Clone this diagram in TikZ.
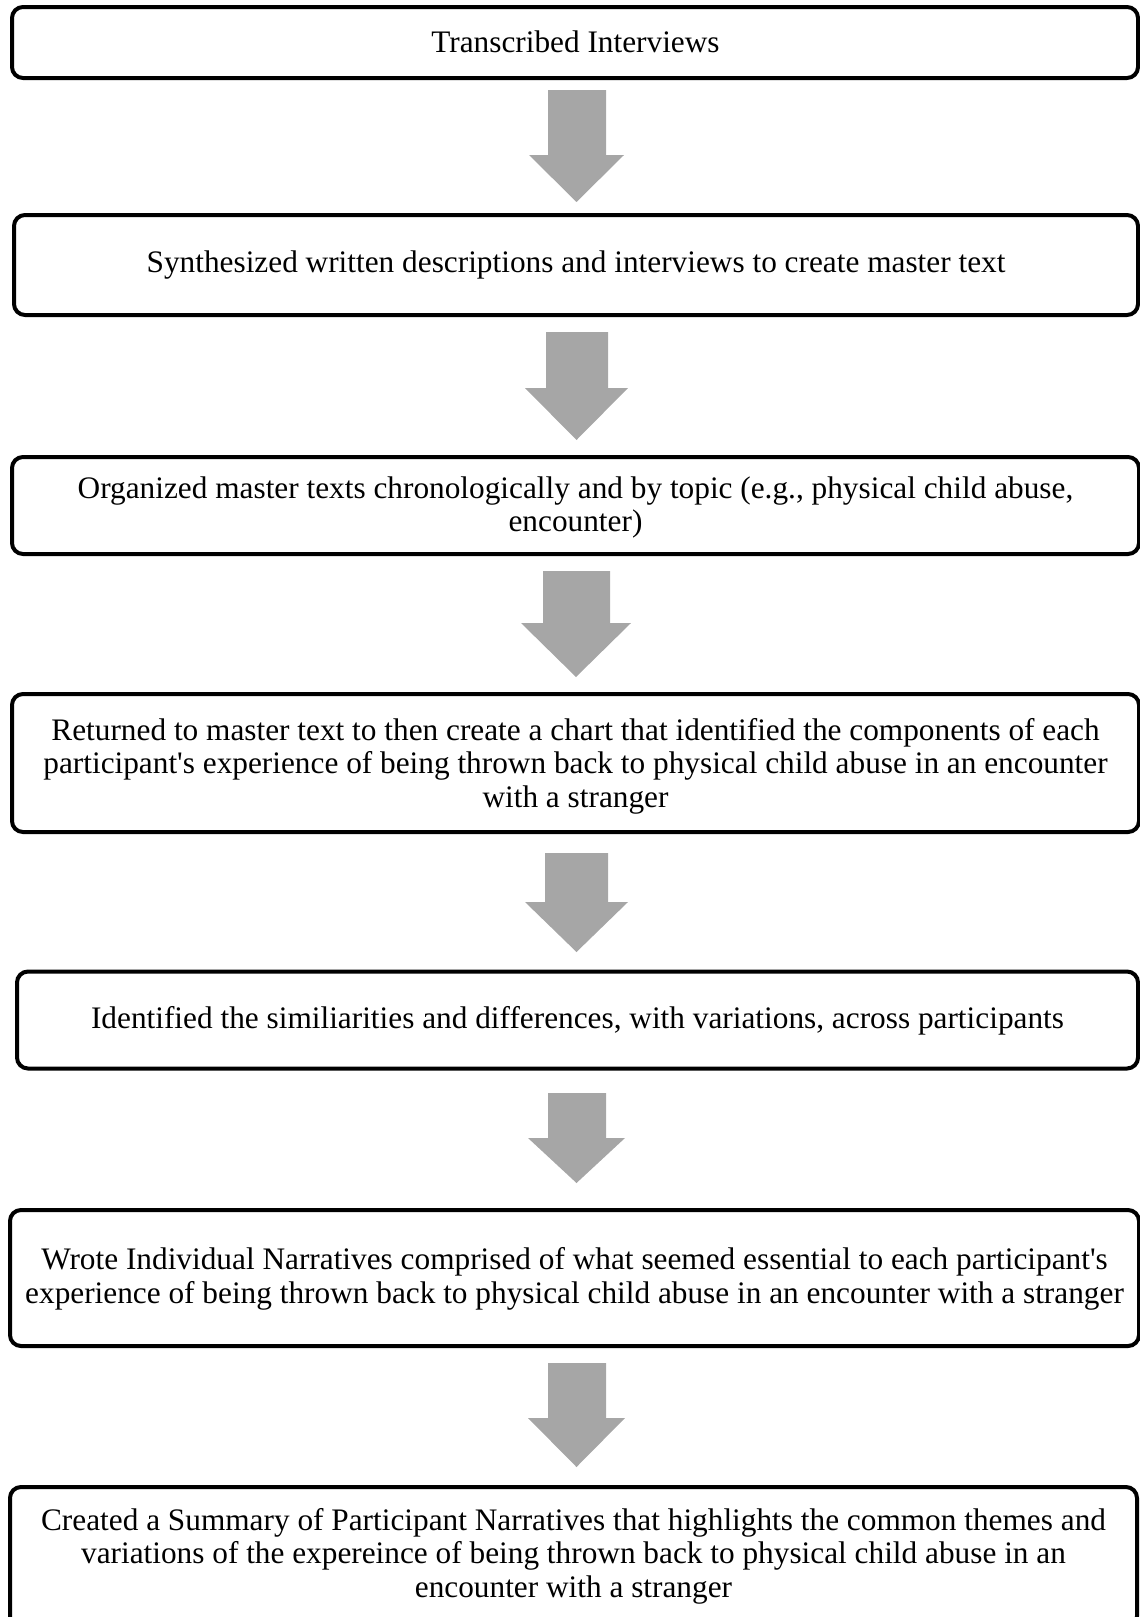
\documentclass[tikz,border=0pt]{standalone}
\usepackage{fontspec}
\setmainfont{Liberation Serif}
\definecolor{arrowgrey}{HTML}{A6A6A6}
\tikzset{
  stepbox/.style={draw=black, line width=4pt, rounded corners=11pt, fill=white,
    align=center, inner sep=0pt, font=\fontsize{31.3}{33.5}\selectfont},
  blockarrow/.style={fill=arrowgrey, draw=none}
}
\newcommand{\downarrowblock}[7]{%
  \fill[blockarrow] (#1,#3) -- (#2,#3) -- (#2,#4) -- (#6,#4) -- ({(#5+#6)/2},#7) -- (#5,#4) -- (#1,#4) -- cycle;}
\begin{document}
\begin{tikzpicture}[x=1pt,y=-1pt]
\useasboundingbox (0,0) rectangle (1140,1617);
\clip (0,0) rectangle (1140,1617);
\node[stepbox, minimum width=1126pt, minimum height=71pt] (b1) at (575,42.5) {};
\node[font=\fontsize{31.3}{33.5}\selectfont, inner sep=0pt] (t1) at (575.5,41.5) {Transcribed Interviews};
\node[stepbox, minimum width=1124pt, minimum height=100pt] (b2) at (576,265) {};
\node[font=\fontsize{31.3}{33.5}\selectfont, inner sep=0pt] (t2) at (576,265) {Synthesized written descriptions and interviews to create master text};
\node[stepbox, minimum width=1127pt, minimum height=97pt] (b3) at (575.5,505.5) {};
\node[font=\fontsize{31.3}{33.5}\selectfont, align=center, inner sep=0pt] (t3) at (575.5,507.5) {Organized master texts chronologically and by topic (e.g., physical child abuse,\\ encounter)};
\node[stepbox, minimum width=1127pt, minimum height=138pt] (b4) at (575.5,763) {};
\node[font=\fontsize{31.3}{33.5}\selectfont, align=center, inner sep=0pt] (t4) at (575.5,766) {Returned to master text to then create a chart that identified the components of each\\ participant\textquotesingle s experience of being thrown back to physical child abuse in an encounter\\ with a stranger};
\node[stepbox, minimum width=1121pt, minimum height=97pt] (b5) at (577.5,1020) {};
\node[font=\fontsize{31.3}{33.5}\selectfont, inner sep=0pt] (t5) at (577.5,1020.5) {Identified the similiarities and differences, with variations, across participants};
\node[stepbox, minimum width=1129pt, minimum height=136pt] (b6) at (574.5,1278) {};
\node[font=\fontsize{31.3}{33.5}\selectfont, align=center, inner sep=0pt] (t6) at (574.5,1279) {Wrote Individual Narratives comprised of what seemed essential to each participant\textquotesingle s\\ experience of being thrown back to physical child abuse in an encounter with a stranger};
\node[stepbox, minimum width=1127pt, minimum height=140pt, anchor=north] (b7) at (573.5,1485) {};
\node[font=\fontsize{31.3}{33.5}\selectfont, align=center, inner sep=0pt] (t7) at (573.5,1556) {Created a Summary of Participant Narratives that highlights the common themes and\\ variations of the expereince of being thrown back to physical child abuse in an\\ encounter with a stranger};
% block arrows: shaft x1, shaft x2, top, head y, head x1, head x2, tip
\downarrowblock{548}{606}{90}{155}{529}{624}{202}
\downarrowblock{546}{608}{332}{388}{525}{628}{440}
\downarrowblock{543}{610}{571}{623}{521}{631}{677}
\downarrowblock{545}{608}{853}{902}{525}{628}{952}
\downarrowblock{548}{606}{1093}{1138}{528}{625}{1183}
\downarrowblock{548}{606}{1363}{1418}{528}{625}{1467}
\end{tikzpicture}
\end{document}
